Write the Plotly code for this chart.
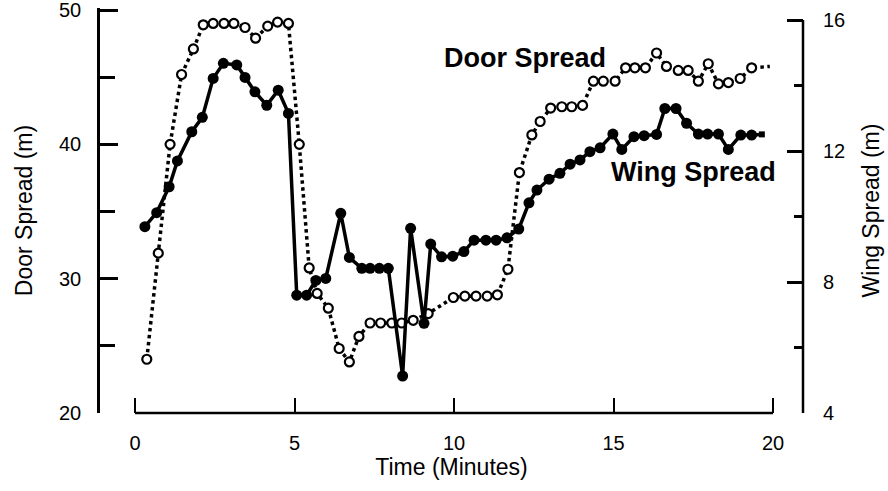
import plotly.graph_objects as go

# Door spread (m), read against the left axis
door_t = [0.37, 0.73, 1.10, 1.46, 1.83, 2.14, 2.45, 2.79, 3.10, 3.45, 3.78, 4.16, 4.47, 4.81,
          5.15, 5.46, 5.71, 6.06, 6.40, 6.72, 7.02, 7.37, 7.70, 8.05, 8.36, 8.72, 9.19,
          9.98, 10.34, 10.69, 11.04, 11.36, 11.69, 12.05, 12.44, 12.70, 13.03, 13.38, 13.69,
          14.03, 14.37, 14.68, 15.05, 15.38, 15.67, 16.00, 16.35, 16.66, 17.03, 17.34, 17.66,
          17.97, 18.29, 18.60, 18.97, 19.33, 19.90]
door_m = [24.0, 31.9, 40.0, 45.2, 47.1, 48.9, 49.0, 49.0, 49.0, 48.7, 47.9, 48.8, 49.1, 49.0,
          40.0, 30.8, 28.9, 27.8, 24.8, 23.8, 25.7, 26.7, 26.7, 26.7, 26.7, 26.9, 27.4,
          28.6, 28.7, 28.7, 28.7, 28.8, 30.7, 37.9, 40.7, 41.7, 42.7, 42.8, 42.8,
          42.9, 44.7, 44.7, 44.7, 45.7, 45.7, 45.7, 46.8, 45.8, 45.5, 45.5, 44.7,
          46.0, 44.5, 44.6, 44.9, 45.7, 45.8]

# Wing spread (m), read against the right axis
wing_t = [0.31, 0.68, 1.07, 1.33, 1.78, 2.11, 2.45, 2.77, 3.19, 3.45, 3.76, 4.13, 4.49, 4.81,
          5.07, 5.38, 5.67, 5.98, 6.45, 6.72, 7.11, 7.37, 7.66, 7.94, 8.39, 8.64, 9.06, 9.27,
          9.61, 9.96, 10.31, 10.63, 11.00, 11.32, 11.66, 12.03, 12.35, 12.60, 12.98, 13.32,
          13.64, 13.95, 14.26, 14.58, 14.98, 15.26, 15.64, 15.96, 16.35, 16.61, 16.96, 17.29,
          17.66, 17.95, 18.29, 18.60, 18.99, 19.33, 19.65]
wing_m = [9.69, 10.12, 10.91, 11.70, 12.59, 13.03, 14.22, 14.68, 14.63, 14.25, 13.81, 13.40, 13.86, 13.15,
          7.60, 7.60, 8.05, 8.11, 10.10, 8.75, 8.42, 8.42, 8.42, 8.42, 5.13, 9.64, 6.74, 9.16,
          8.77, 8.79, 8.93, 9.28, 9.28, 9.28, 9.35, 9.62, 10.42, 10.81, 11.14, 11.32,
          11.60, 11.73, 11.98, 12.10, 12.52, 12.05, 12.44, 12.47, 12.51, 13.30, 13.30, 12.85,
          12.52, 12.52, 12.52, 12.05, 12.49, 12.49, 12.51]

time_ticks = [0, 5, 10, 15, 20]
door_ticks = [20, 30, 40, 50]
wing_ticks = [4, 8, 12, 16]

FONT = "Liberation Sans, Arial, Helvetica, sans-serif"
INK = "black"

# last door sample carries the dotted line only; last wing sample is a small square
door_sizes = [9] * (len(door_t) - 1) + [0]
wing_sizes = [11] * (len(wing_t) - 1) + [6]
wing_symbols = ["circle"] * (len(wing_t) - 1) + ["square"]

fig = go.Figure()

fig.add_trace(go.Scatter(
    x=door_t, y=door_m, mode="lines+markers", yaxis="y",
    line=dict(color=INK, width=3.5, dash="dot"),
    marker=dict(symbol="circle", size=door_sizes, color="white", opacity=1,
                line=dict(color=INK, width=2.2)),
    hoverinfo="skip",
))

fig.add_trace(go.Scatter(
    x=wing_t, y=wing_m, mode="lines+markers", yaxis="y2",
    line=dict(color=INK, width=3.5),
    marker=dict(symbol=wing_symbols, size=wing_sizes, color=INK, opacity=1,
                line=dict(width=0)),
    hoverinfo="skip",
))

# separate frame pieces: time axis spans 0-20 only, right axis spans 4-16 only
fig.add_shape(type="line", xref="x", yref="paper", x0=0, x1=20, y0=0, y1=0,
              line=dict(color=INK, width=2.5))
fig.add_shape(type="line", xref="paper", yref="y2", x0=1, x1=1, y0=4, y1=16,
              line=dict(color=INK, width=2.5))

fig.add_annotation(text="Door Spread", x=9.62, y=46.45, xref="x", yref="y",
                   xanchor="left", yanchor="middle", showarrow=False,
                   font=dict(family=FONT, size=27, color=INK, weight="bold"))
fig.add_annotation(text="Wing Spread", x=14.85, y=11.35, xref="x", yref="y2",
                   xanchor="left", yanchor="middle", showarrow=False,
                   font=dict(family=FONT, size=27, color=INK, weight="bold"))

fig.update_layout(
    width=888, height=491,
    margin=dict(l=100, r=85, t=8, b=78, autoexpand=False),
    paper_bgcolor="white", plot_bgcolor="white",
    showlegend=False,
    font=dict(family=FONT, color=INK, size=20),
    xaxis=dict(
        range=[-1.097, 20.94], tickvals=time_ticks, ticktext=[str(v) for v in time_ticks],
        ticks="inside", ticklen=15, tickwidth=2, tickcolor=INK,
        showline=False, showgrid=False, zeroline=False, automargin=False,
        tickfont=dict(size=20), ticklabelstandoff=16,
        title=dict(text="Time (Minutes)", font=dict(size=23), standoff=2),
    ),
    yaxis=dict(
        range=[20, 50.15], tickvals=door_ticks, ticktext=[str(v) for v in door_ticks],
        ticks="inside", ticklen=18, tickwidth=2.5, tickcolor=INK,
        minor=dict(dtick=5, tick0=20, ticks="inside", ticklen=15, tickwidth=2.5, tickcolor=INK),
        showline=True, linecolor=INK, linewidth=2.5,
        showgrid=False, zeroline=False, automargin=False,
        tickfont=dict(size=20), ticklabelstandoff=12, ticklabeloverflow="allow",
        title=dict(text="Door Spread (m)", font=dict(size=23), standoff=20),
    ),
    yaxis2=dict(
        overlaying="y", side="right",
        range=[4, 16.37], tickvals=wing_ticks, ticktext=[str(v) for v in wing_ticks],
        ticks="inside", ticklen=16, tickwidth=2.5, tickcolor=INK,
        minor=dict(dtick=2, tick0=4, ticks="inside", ticklen=9, tickwidth=2.5, tickcolor=INK),
        showline=False, showgrid=False, zeroline=False, automargin=False,
        tickfont=dict(size=20), ticklabelstandoff=19, ticklabeloverflow="allow",
        title=dict(text="Wing Spread (m)", font=dict(size=23), standoff=18),
    ),
)

fig.write_html("out.html")
